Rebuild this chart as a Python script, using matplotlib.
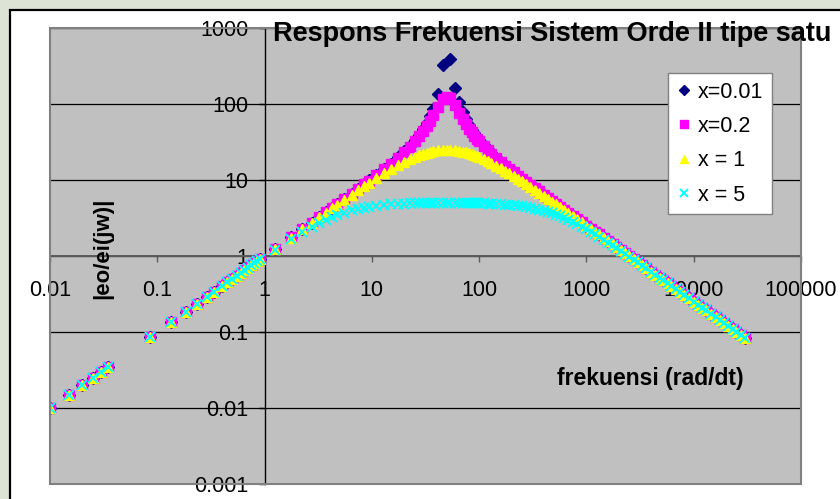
import matplotlib.pyplot as plt
from matplotlib.patches import Rectangle
from matplotlib.ticker import NullLocator
import numpy as np

# frekuensi (rad/dt)
freq_low = [0.01, 0.015, 0.02, 0.025, 0.03, 0.035, 0.085, 0.135, 0.185, 0.235, 0.29, 0.34,
            0.4, 0.45, 0.5, 0.55, 0.6, 0.65, 0.7, 0.75, 0.8, 0.85, 0.9]
freq_mid = [1.25, 1.75, 2.25, 2.75, 3.25, 3.75, 4.25, 4.75, 5.5, 6.5, 7.5, 8.5, 9.5, 11, 13, 15,
            17.5, 20, 22.5, 25, 27.5, 30, 32.5, 35, 37.5, 41.5, 46, 50, 53.5, 59, 65, 70, 75, 80,
            85, 90, 95,
            100, 110, 120, 130, 145, 160, 175, 190, 210, 230, 250, 275, 300, 330, 360, 400, 440,
            480, 520, 570, 620, 680, 750, 820, 900]
freq_high = [1000, 1100, 1200, 1300, 1450, 1600, 1750, 1900, 2100, 2300, 2500, 2750, 3000, 3300,
             3600, 4000, 4400, 4800, 5200, 5700, 6200, 6800, 7500, 8200, 9000, 10000, 11000,
             12000, 13000, 14500, 16000, 17500, 19000, 21000, 23000, 25000, 27500, 30000]

# |eo/ei(jw)| below 1 rad/dt, same for every x
gain_low = [0.01, 0.015, 0.02, 0.025, 0.03, 0.035, 0.085, 0.135, 0.185, 0.235, 0.29, 0.34,
            0.4, 0.45, 0.5, 0.55, 0.6, 0.65, 0.7, 0.75, 0.8, 0.85, 0.9]

gain_mid_001 = [1.251, 1.752, 2.255, 2.758, 3.264, 3.771, 4.281, 4.793, 5.567, 6.612, 7.673, 8.753,
                9.856, 11.56, 13.94, 16.48, 19.94, 23.81, 28.21, 33.33, 39.42, 46.87, 56.26, 68.60,
                85.66, 135.0, 330.0, 2500.0, 395.0, 162.0, 105.0, 78.0, 63.0, 53.0, 46.0, 41.0, 37.0,
                33.33, 28.65, 25.21, 22.57, 19.57, 17.32, 15.56, 14.14, 12.62, 11.41, 10.42, 9.402,
                8.571, 7.754, 7.081, 6.349, 5.756, 5.265, 4.853, 4.420, 4.059, 3.696, 3.348, 3.060,
                2.786]
gain_mid_02 = [1.251, 1.752, 2.254, 2.758, 3.263, 3.770, 4.280, 4.792, 5.562, 6.603, 7.658, 8.732,
               9.825, 11.51, 13.86, 16.34, 19.69, 23.39, 27.52, 32.21, 37.60, 43.89, 51.32, 60.16,
               70.69, 91.2, 115.4, 125.0, 118.4, 96.1, 75.23, 62.98, 54.09, 47.44, 42.32, 38.25, 34.95,
               32.21, 27.92, 24.71, 22.21, 19.33, 17.15, 15.44, 14.05, 12.56, 11.36, 10.38, 9.375,
               8.551, 7.739, 7.070, 6.341, 5.750, 5.261, 4.849, 4.417, 4.057, 3.695, 3.347, 3.059,
               2.786]
gain_mid_1 = [1.249, 1.748, 2.245, 2.742, 3.236, 3.729, 4.220, 4.707, 5.434, 6.392, 7.335, 8.261,
              9.169, 10.49, 12.18, 13.76, 15.59, 17.24, 18.71, 20.00, 21.11, 22.06, 22.85, 23.49,
              24.00, 24.57, 24.91, 25.00, 24.94, 24.66, 24.16, 23.65, 23.08, 22.47, 21.85, 21.23, 20.61,
              20.00, 18.84, 17.75, 16.75, 15.41, 14.23, 13.21, 12.31, 11.27, 10.38, 9.615, 8.800,
              8.108, 7.406, 6.813, 6.154, 5.609, 5.152, 4.764, 4.352, 4.006, 3.657, 3.319, 3.037,
              2.769]
gain_mid_5 = [1.213, 1.654, 2.055, 2.415, 2.733, 3.011, 3.252, 3.460, 3.720, 3.988, 4.189, 4.342,
              4.459, 4.589, 4.706, 4.785, 4.850, 4.893, 4.923, 4.945, 4.960, 4.972, 4.980, 4.987,
              4.991, 4.996, 4.999, 5.000, 5.000, 4.997, 4.993, 4.988, 4.983, 4.976, 4.969, 4.962, 4.953,
              4.945, 4.926, 4.905, 4.882, 4.844, 4.804, 4.760, 4.714, 4.648, 4.580, 4.508, 4.415,
              4.319, 4.202, 4.084, 3.928, 3.775, 3.626, 3.482, 3.312, 3.151, 2.972, 2.782, 2.610,
              2.434]

# above 1000 rad/dt x = 0.01, 0.2 and 1 coincide
gain_high = [2.506, 2.277, 2.087, 1.926, 1.726, 1.564, 1.430, 1.317, 1.191, 1.087, 1.000, 0.9091,
             0.8333, 0.7576, 0.6944, 0.6250, 0.5682, 0.5208, 0.4808, 0.4386, 0.4032, 0.3676,
             0.3333, 0.3049, 0.2778, 0.2500, 0.2273, 0.2083, 0.1923, 0.1724, 0.1563, 0.1429,
             0.1316, 0.1190, 0.1087, 0.1000, 0.0909, 0.0833]
gain_high_5 = [2.241, 2.073, 1.926, 1.797, 1.632, 1.493, 1.375, 1.273, 1.159, 1.063, 0.981, 0.895,
               0.822, 0.749, 0.688, 0.620, 0.5646, 0.5181, 0.4786, 0.4370, 0.4019, 0.3667,
               0.3326, 0.3043, 0.2774, 0.2497, 0.2271, 0.2082, 0.1922, 0.1723, 0.1562, 0.1428,
               0.1315, 0.1189, 0.1087, 0.1000, 0.0909, 0.0833]

labels = ['x=0.01', 'x=0.2', 'x = 1', 'x = 5']
x_ticks = [0.01, 0.1, 1, 10, 100, 1000, 10000, 100000]
x_ticklabels = ['0.01', '0.1', '1', '10', '100', '1000', '10000', '100000']
y_ticks = [0.001, 0.01, 0.1, 1, 10, 100, 1000]
y_ticklabels = ['0.001', '0.01', '0.1', '1', '10', '100', '1000']

freq = np.array(freq_low + freq_mid + freq_high)
series = [
    (gain_low + gain_mid_001 + gain_high, dict(marker='D', ms=6.3, color='#000080')),
    (gain_low + gain_mid_02 + gain_high, dict(marker='s', ms=7.0, color='#ff00ff')),
    (gain_low + gain_mid_1 + gain_high, dict(marker='^', ms=7.6, color='#ffff00')),
    (gain_low + gain_mid_5 + gain_high_5, dict(marker='x', ms=7.0, mew=1.4, color='#00ffff')),
]

plt.rcParams['font.family'] = ['Liberation Sans', 'DejaVu Sans']

W, H = 840, 499
fig = plt.figure(figsize=(W / 100, H / 100), dpi=100)
fig.patch.set_facecolor('#dde4d6')

# white chart frame with black border
fig.add_artist(Rectangle((10 / W, -0.1), 1.0, 1.1 - 10 / H, transform=fig.transFigure,
                         facecolor='white', edgecolor='black', lw=1.6, zorder=0))

ax = fig.add_axes([50 / W, 15 / H, 751 / W, 456 / H])
ax.set_facecolor('#c0c0c0')
ax.set_xscale('log')
ax.set_yscale('log')
ax.set_xlim(0.01, 100000)
ax.set_ylim(0.001, 1000)

for gain, style in series:
    ax.plot(freq, gain, ls='none', mec=style['color'], zorder=3, **style)

# axes cross at (1, 1)
ax.spines['left'].set_position(('data', 1))
ax.spines['bottom'].set_position(('data', 1))
ax.spines['left'].set_color('black')
ax.spines['left'].set_linewidth(1.0)
ax.spines['bottom'].set_color('#5a5a5a')
ax.spines['bottom'].set_linewidth(1.4)
ax.spines['top'].set_visible(False)
ax.spines['right'].set_visible(False)
ax.add_patch(Rectangle((0, 0), 1, 1, transform=ax.transAxes, fill=False,
                       edgecolor='#808080', lw=1.5, clip_on=False, zorder=4))

ax.set_xticks(x_ticks)
ax.set_xticklabels(x_ticklabels)
ax.set_yticks(y_ticks)
ax.set_yticklabels(y_ticklabels)
ax.xaxis.set_minor_locator(NullLocator())
ax.yaxis.set_minor_locator(NullLocator())
ax.tick_params(axis='x', direction='out', length=4.5, width=1.0, color='#5a5a5a',
               pad=13, labelsize=15.5)
ax.tick_params(axis='y', direction='out', length=4.5, width=1.0, color='black',
               pad=7, labelsize=15.5)
ax.yaxis.grid(True, color='black', lw=0.9)
ax.set_axisbelow(True)

leg = ax.legend(labels, loc='upper left', bbox_to_anchor=(668 / W, 1 - 73 / H),
                bbox_transform=fig.transFigure, fontsize=15.5, frameon=True, fancybox=False,
                edgecolor='#808080', facecolor='white', framealpha=1, borderaxespad=0,
                borderpad=0.4, labelspacing=0.62, handlelength=0.7, handletextpad=0.3,
                markerscale=0.8)
leg.get_frame().set_linewidth(1.0)
leg.set_zorder(5)

fig.text(273 / W, 1 - 34 / H, 'Respons Frekuensi Sistem Orde II tipe satu', fontsize=19.5,
         fontweight='bold', ha='left', va='center')
fig.text(557 / W, 1 - 379 / H, 'frekuensi (rad/dt)', fontsize=16.5, fontweight='bold',
         ha='left', va='center')
fig.text(103 / W, 1 - 248 / H, '|eo/ei(jw)|', fontsize=16, fontweight='bold', rotation=90,
         ha='center', va='center')

fig.savefig('out.png', dpi=100, facecolor=fig.get_facecolor())
